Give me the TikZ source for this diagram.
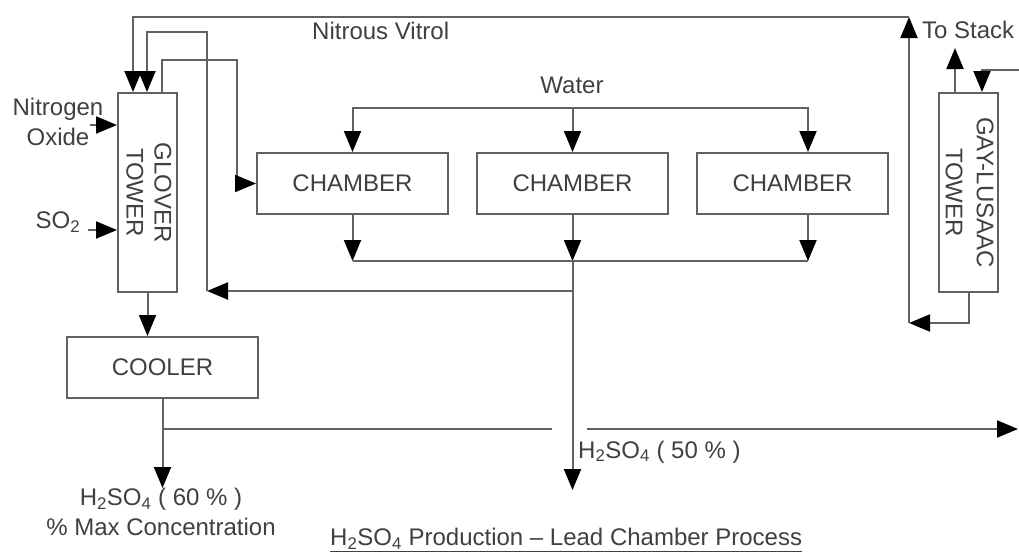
\documentclass[tikz,border=0pt]{standalone}
\usepackage{fontspec}
\setmainfont{Liberation Sans}
\usetikzlibrary{arrows.meta}
\begin{document}
\begin{tikzpicture}[x=1pt,y=-1pt,
  line/.style={draw=black!62, line width=2pt},
  arr/.style={line, -{Triangle[length=21pt,width=17pt,color=black]}},
  box/.style={draw=black!62, line width=2pt, fill=white, text=black!75, font=\fontsize{24}{28}\selectfont, inner sep=0pt},
  lbl/.style={text=black!75, font=\fontsize{24}{30}\selectfont, inner sep=0pt},
]
\useasboundingbox[fill=white] (0,0) rectangle (1019,554);

% boxes
\node[box, minimum width=59pt, minimum height=199pt] (glover) at (147.5,192.5) {};
\node[lbl, rotate=-90, align=center, font=\fontsize{24}{28}\selectfont] (glovertxt) at (149,192.5) {GLOVER\\TOWER};
\node[box, minimum width=59pt, minimum height=199pt] (gay) at (968.5,192.5) {};
\node[lbl, rotate=-90, align=center, font=\fontsize{24}{31}\selectfont] (gaytxt) at (969.5,192.5) {GAY-LUSAAC\\TOWER};
\node[box, minimum width=191pt, minimum height=61pt] (ch1) at (352.5,183.5) {CHAMBER};
\node[box, minimum width=191pt, minimum height=61pt] (ch2) at (572.5,183.5) {CHAMBER};
\node[box, minimum width=191pt, minimum height=61pt] (ch3) at (792.5,183.5) {CHAMBER};
\node[box, minimum width=191pt, minimum height=61pt] (cooler) at (162.5,367.5) {COOLER};

% labels
\node[lbl, anchor=west] (vitrol) at (312,31) {Nitrous Vitrol};
\node[lbl] (water) at (572,85) {Water};
\node[lbl, align=center] (nox) at (58,122) {Nitrogen\\Oxide};
\node[lbl] (so2) at (58,222) {SO\textsubscript{2}};
\node[lbl, anchor=west] (stack) at (922,30) {To Stack};
\node[lbl, align=center] (p60) at (161,512) {H\textsubscript{2}SO\textsubscript{4} ( 60 \% )\\\% Max Concentration};
\node[lbl, anchor=west] (p50) at (578,452) {H\textsubscript{2}SO\textsubscript{4} ( 50 \% )};
\node[lbl, anchor=west] (title) at (330,540) {\underline{H\textsubscript{2}SO\textsubscript{4} Production – Lead Chamber Process}};

% coordinates
\coordinate (c1) at (909,323);
\coordinate (c2) at (909,17);
\coordinate (rA) at (572.5,291);
\coordinate (rB) at (207,291);
\coordinate (wm) at (572.5,108);
\coordinate (k1) at (352.5,261);
\coordinate (k2) at (572.5,261);
\coordinate (k3) at (808,261);
\coordinate (pend) at (572.5,490);
\coordinate (hA) at (162.5,429);
\coordinate (hB) at (552,429);
\coordinate (hC) at (587,429);
\coordinate (hD) at (1018,429);
\coordinate (cend) at (162.5,488);
\coordinate (nin) at (90,125);
\coordinate (sin) at (88,230);
\coordinate (stk) at (955,48);
\coordinate (gin) at (1019,70);

% nitrous vitrol loop
\draw[arr] (969,0 |- gay.south) |- (c1);
\draw[arr] (c1) -- (c2);
\draw[arr] (c2) -| (133,0 |- glover.north);

% recirculation
\draw[arr] (rA) -- (rB);
\draw[line] (rB) -- (207,32) -| (147,60);
\draw[arr] (147,60) -- (147,0 |- glover.north);

% glover to first chamber
\draw[arr] (162,0 |- glover.north) |- (237,60) |- (ch1.west);

% water
\draw[arr] (wm) -- (ch2.north);
\draw[arr] (wm) -| (ch1.north);
\draw[arr] (wm) -| (808,0 |- ch3.north);

% collection
\draw[arr] (ch1.south) -- (k1);
\draw[arr] (ch2.south) -- (k2);
\draw[arr] (808,0 |- ch3.south) -- (k3);
\draw[line] (k1) -- (k3);
\draw[arr] (k2) -- (pend);

% cooler
\draw[arr] (glover.south) -- (glover.south |- cooler.north);
\draw[arr] (cooler.south) -- (cend);
\draw[line] (hA) -- (hB);
\draw[arr] (hC) -- (hD);

% feeds
\draw[arr] (nin) -- (glover.west |- nin);
\draw[arr] (sin) -- (glover.west |- sin);

% gay-lussac
\draw[arr] (955,0 |- gay.north) -- (stk);
\draw[arr] (gin) -| (982,0 |- gay.north);
\end{tikzpicture}
\end{document}
